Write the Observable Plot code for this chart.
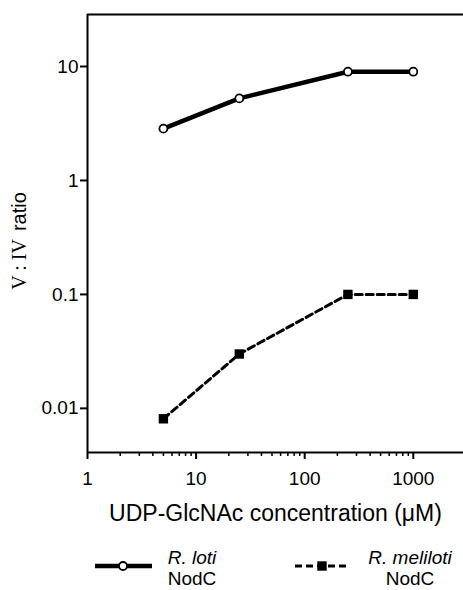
<!DOCTYPE html>
<html><head><meta charset="utf-8">
<script src="https://cdn.jsdelivr.net/npm/d3@7"></script>
<script src="https://cdn.jsdelivr.net/npm/@observablehq/plot@0.6"></script>
<style>
body{margin:0;background:#fff;font-family:"Liberation Sans",Arial,sans-serif}
#chart svg{display:block}
</style>
</head><body><div id="chart"></div><script>
const FONT = '"Liberation Sans", Arial, sans-serif';
const SERIF = '"Liberation Serif", "Times New Roman", serif';

// data
const concentrations = [5, 25, 250, 1000];
const lotiRatio = [2.85, 5.25, 9.0, 9.0];
const melilotiRatio = [0.0081, 0.030, 0.100, 0.100];
const seriesNames = ["R. loti", "R. meliloti"];
const seriesSub = ["NodC", "NodC"];

// axes
const xTicks = [1, 10, 100, 1000];
const xTickLabels = ["1", "10", "100", "1000"];
const xMinorTicks = [2,3,4,5,6,7,8,9,20,30,40,50,60,70,80,90,200,300,400,500,600,700,800,900];
const yTicks = [0.01, 0.1, 1, 10];
const yTickLabels = ["0.01", "0.1", "1", "10"];
const xDomain = [1, 2900];
const yDomain = [0.0041, 28.6];
const xLabel = "UDP-GlcNAc concentration (\u03bcM)";
const yLabelRoman = "V : IV";
const yLabelWord = "ratio";

const loti = concentrations.map((c, i) => ({c, r: lotiRatio[i]}));
const meliloti = concentrations.map((c, i) => ({c, r: melilotiRatio[i]}));
const xFmt = new Map(xTicks.map((d, i) => [d, xTickLabels[i]]));
const yFmt = new Map(yTicks.map((d, i) => [d, yTickLabels[i]]));

const W = 463, H = 530;
const plot = Plot.plot({
  width: W, height: H,
  marginLeft: 87, marginRight: 0, marginTop: 14, marginBottom: H - 452,
  style: {fontFamily: FONT, fontSize: "19px", color: "#000", background: "#fff", overflow: "visible"},
  x: {type: "log", domain: xDomain, label: null},
  y: {type: "log", domain: yDomain, label: null},
  marks: [
    Plot.axisX(xMinorTicks, {tickSize: 4, tickFormat: () => "", strokeWidth: 1.5, label: null}),
    Plot.axisX(xTicks, {tickSize: 7, tickPadding: 12, tickFormat: d => xFmt.get(d), strokeWidth: 2, label: null, fontSize: 19}),
    Plot.axisY(yTicks, {tickSize: 7, tickPadding: 2, tickFormat: d => yFmt.get(d), strokeWidth: 2, label: null, fontSize: 19}),
    Plot.ruleX([xDomain[0]], {strokeWidth: 2, stroke: "black"}),
    Plot.ruleY([yDomain[0], yDomain[1]], {strokeWidth: 2, stroke: "black"}),
    Plot.line(loti, {x: "c", y: "r", stroke: "black", strokeWidth: 4.5}),
    Plot.dot(loti, {x: "c", y: "r", r: 4, fill: "white", stroke: "black", strokeWidth: 1.8}),
    Plot.line(meliloti, {x: "c", y: "r", stroke: "black", strokeWidth: 3, strokeDasharray: "7,4"}),
    Plot.dot(meliloti, {x: "c", y: "r", symbol: "square", r: 5.3, fill: "black", stroke: "none"}),
    Plot.text([xLabel], {frameAnchor: "bottom", dy: 61, fontSize: 23, lineAnchor: "middle", fill: "black"})
  ]
});

const svg = d3.select(plot);
const yl = svg.append("text")
  .attr("transform", "translate(26,241) rotate(-90)")
  .attr("text-anchor", "middle")
  .attr("font-size", 20)
  .attr("fill", "black");
yl.append("tspan").attr("font-family", SERIF).text(yLabelRoman);
yl.append("tspan").attr("font-family", FONT).attr("dx", 8).text(yLabelWord);

document.getElementById("chart").appendChild(plot);

// legend below the plot
const lg = d3.select("#chart").append("svg")
  .attr("width", W).attr("height", 60)
  .style("display", "block")
  .attr("font-family", FONT).attr("font-size", 19);
const legendItems = [
  {name: seriesNames[0], sub: seriesSub[0], x0: 95, x1: 152, mx: 123, tx: 192, dash: null, sw: 4.5, marker: "circle"},
  {name: seriesNames[1], sub: seriesSub[1], x0: 295, x1: 350, mx: 322, tx: 410, dash: "7,4", sw: 3, marker: "square"}
];
for (const it of legendItems) {
  lg.append("line").attr("x1", it.x0).attr("x2", it.x1).attr("y1", 36).attr("y2", 36)
    .attr("stroke", "black").attr("stroke-width", it.sw)
    .attr("stroke-dasharray", it.dash);
  if (it.marker === "circle") {
    lg.append("circle").attr("cx", it.mx).attr("cy", 36).attr("r", 4)
      .attr("fill", "white").attr("stroke", "black").attr("stroke-width", 1.8);
  } else {
    lg.append("rect").attr("x", it.mx - 4.7).attr("y", 36 - 4.7).attr("width", 9.4).attr("height", 9.4)
      .attr("fill", "black");
  }
  lg.append("text").attr("x", it.tx).attr("y", 34).attr("text-anchor", "middle")
    .attr("font-style", "italic").text(it.name);
  lg.append("text").attr("x", it.tx).attr("y", 55).attr("text-anchor", "middle").text(it.sub);
}
</script></body></html>
